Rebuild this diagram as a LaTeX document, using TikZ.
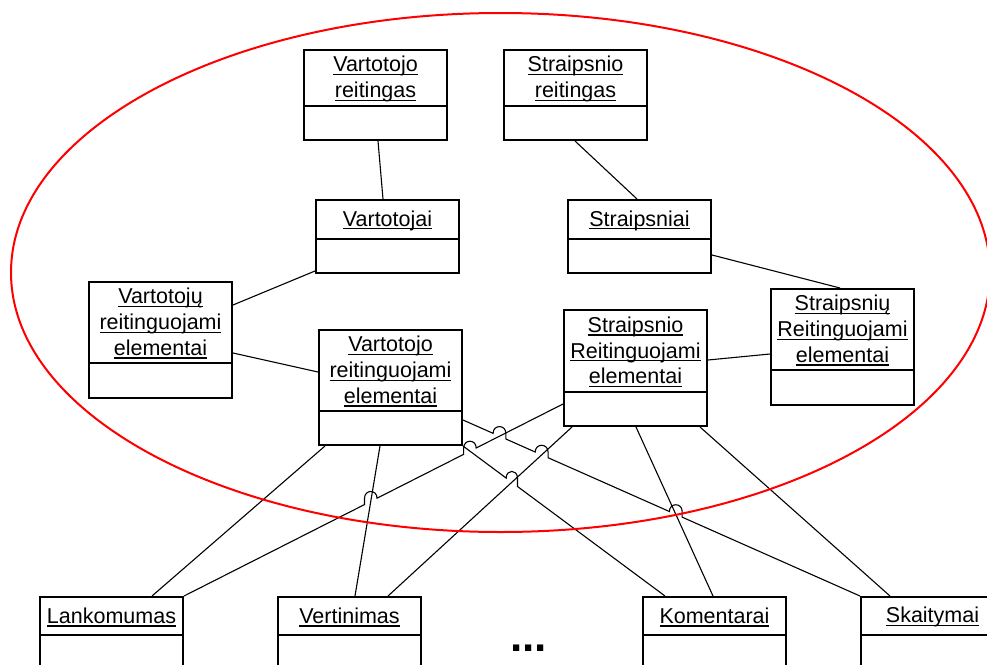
\documentclass[tikz,border=0pt]{standalone}
\usepackage{fontspec}
\setmainfont{Liberation Sans}
\usetikzlibrary{calc,intersections}

% underlined word with a fixed rule just below the baseline
\newcommand\undl[1]{\setbox0=\hbox{#1}\rlap{\rule[-3.4pt]{\wd0}{1.3pt}}\box0}

\tikzset{
  cbox/.style={draw, line width=2pt, fill=white, minimum width=143pt, inner sep=0pt},
  cdiv/.style={line width=2pt},
  ctext/.style={font=\fontsize{21.5}{25.8}\selectfont, align=center, inner sep=0pt},
  conn/.style={line width=1.1pt, line join=miter},
  scope boundary/.style={draw=red, line width=2pt},
}

% class box: name, x, y (top), height of name compartment, total height, label
\newcommand\classbox[6]{%
  \node[cbox, minimum height=#5pt, anchor=north west] (#1) at (#2,#3) {};
  \draw[cdiv] ([yshift=-#4pt]#1.north west) -- ([yshift=-#4pt]#1.north east);
  \node[ctext] (#1-t) at ($(#1.north west)!.5!(#1.north east) + (0,#4/2+1.5)$) {#6};
}

\begin{document}
\begin{tikzpicture}[x=1pt, y=-1pt]
\useasboundingbox (0,0) rectangle (987,664);
\clip (0,0) rectangle (987,664);
\fill[white] (0,0) rectangle (987,664);

% classes
\classbox{vr}{303}{49}{57}{90}{\undl{Vartotojo}\\\undl{reitingas}}
\classbox{sr}{503}{49}{57}{90}{\undl{Straipsnio}\\\undl{reitingas}}
\classbox{vart}{315}{199}{40}{73}{\undl{Vartotojai}}
\classbox{str}{567}{199}{40}{73}{\undl{Straipsniai}}
\classbox{vre2}{88}{281}{82}{116}{\undl{Vartotojų}\\\undl{reitinguojami}\\\undl{elementai}}
\classbox{vre}{318}{329}{82}{115}{\undl{Vartotojo}\\\undl{reitinguojami}\\\undl{elementai}}
\classbox{sre}{563}{309}{83}{116}{\undl{Straipsnio}\\\undl{Reitinguojami}\\\undl{elementai}}
\classbox{sre2}{770}{288}{82}{116}{\undl{Straipsnių}\\\undl{Reitinguojami}\\\undl{elementai}}
\classbox{lank}{39}{596}{39}{72}{\undl{Lankomumas}}
\classbox{vert}{277}{596}{39}{72}{\undl{Vertinimas}}
\classbox{kom}{642}{596}{39}{72}{\undl{Komentarai}}
\classbox{skait}{860}{596}{39}{72}{\undl{Skaitymai}}

\node[font=\fontsize{44}{44}\selectfont\bfseries, inner sep=0pt, anchor=base west] (more) at (510,651) {...};

% upper associations
\draw[conn] ([xshift=75pt]vr.south west) -- ([xshift=68pt]vart.north west);
\draw[conn] ([xshift=72pt]sr.south west) -- ([xshift=70pt]str.north west);
\draw[conn] ([yshift=3pt]vart.south west) -- ([yshift=-24pt]vre2.north east);
\draw[conn] ([yshift=-56pt]str.north east) -- ([xshift=70pt]sre2.north west);
\draw[conn] ([yshift=-72pt]vre2.north east) -- ([yshift=-43pt]vre.north west);
\draw[conn] ([yshift=-51pt]sre.north east) -- ([yshift=-66pt]sre2.north west);

% end points of the lower associations
\coordinate (a1) at ([xshift=7pt]vre.south west);   \coordinate (b1) at ([xshift=113pt]lank.north west);
\coordinate (a2) at ([xshift=62pt]vre.south west);  \coordinate (b2) at ([xshift=78pt]vert.north west);
\coordinate (a3) at ([yshift=-95pt]sre.north west); \coordinate (b3) at (lank.north east);
\coordinate (a4) at ([yshift=-91pt]vre.north east); \coordinate (b4) at (skait.north west);
\coordinate (a5) at (vre.south east);               \coordinate (b5) at ([xshift=23pt]kom.north west);
\coordinate (a6) at ([xshift=9pt]sre.south west);   \coordinate (b6) at ([xshift=111pt]vert.north west);
\coordinate (a7) at ([xshift=73pt]sre.south west);  \coordinate (b7) at ([xshift=71pt]kom.north west);
\coordinate (a8) at ([xshift=137pt]sre.south west); \coordinate (b8) at ([xshift=30pt]skait.north west);

\path[name path=l2] (a2) -- (b2);
\path[name path=l3] (a3) -- (b3);
\path[name path=l4] (a4) -- (b4);
\path[name path=l5] (a5) -- (b5);
\path[name path=l6] (a6) -- (b6);
\path[name path=l7] (a7) -- (b7);

% crossings where a line jumps over another
\path[name intersections={of=l3 and l5, by=x1}];
\path[name intersections={of=l3 and l2, by=x2}];
\path[name intersections={of=l4 and l3, by=x3}];
\path[name intersections={of=l4 and l6, by=x4}];
\path[name intersections={of=l4 and l7, by=x5}];
\path[name intersections={of=l5 and l6, by=x6}];

\foreach \j/\s/\e in {1/a3/b3, 2/a3/b3, 3/a4/b4, 4/a4/b4, 5/a4/b4, 6/a5/b5} {
  \coordinate (j\j a) at ($(x\j)!7pt!(\s)$);
  \coordinate (j\j b) at ($(x\j)!7pt!(\e)$);
}

% lower associations
\draw[conn] (a1) -- (b1);
\draw[conn] (a2) -- (b2);
\draw[conn] (a6) -- (b6);
\draw[conn] (a7) -- (b7);
\draw[conn] (a8) -- (b8);
\draw[conn] (a3) -- (j1a) .. controls +(0,-9) and +(0,-9) .. (j1a -| j1b) -- (j1b)
                 -- (j2a) .. controls +(0,-9) and +(0,-9) .. (j2a -| j2b) -- (j2b) -- (b3);
\draw[conn] (a4) -- (j3a) .. controls +(0,-9) and +(0,-9) .. (j3a -| j3b) -- (j3b)
                 -- (j4a) .. controls +(0,-9) and +(0,-9) .. (j4a -| j4b) -- (j4b)
                 -- (j5a) .. controls +(0,-9) and +(0,-9) .. (j5a -| j5b) -- (j5b) -- (b4);
\draw[conn] (a5) -- (j6a) .. controls +(0,-9) and +(0,-9) .. (j6a -| j6b) -- (j6b) -- (b5);

% subsystem boundary
\draw[scope boundary] (500.5,272.5) ellipse [x radius=489.5pt, y radius=259.5pt];
\end{tikzpicture}
\end{document}
